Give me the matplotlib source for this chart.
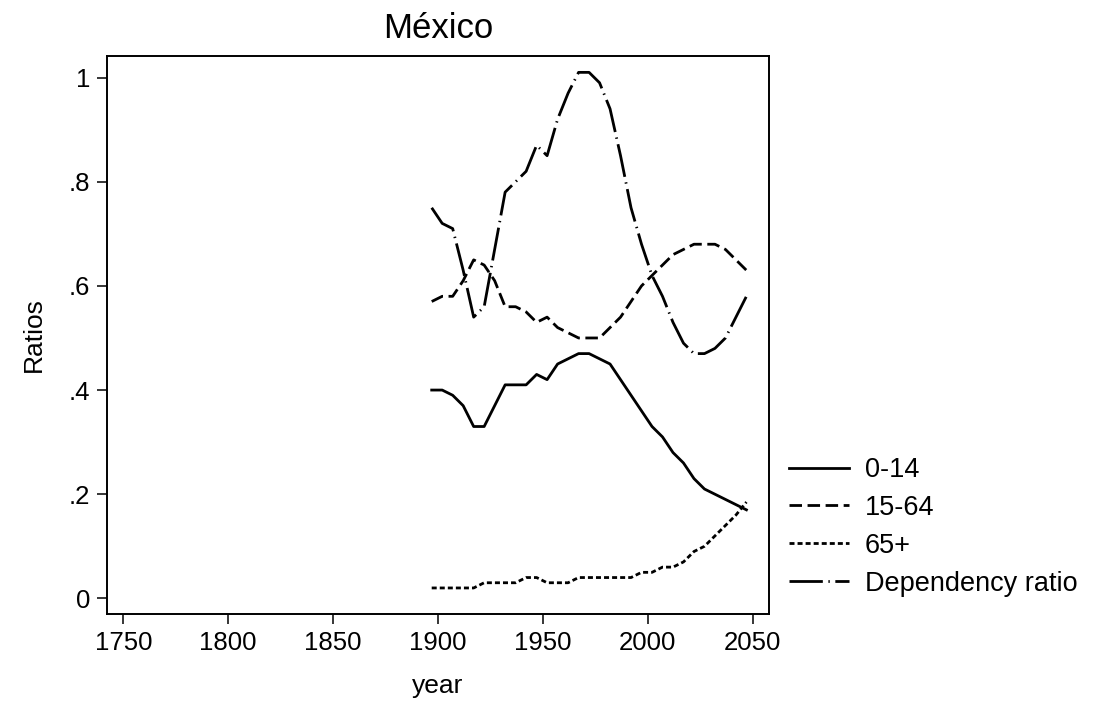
import matplotlib
matplotlib.use("Agg")
import matplotlib.pyplot as plt

plt.rcParams['font.family'] = ['Liberation Sans', 'DejaVu Sans']

years = list(range(1897, 2048, 5))
age_0_14 = [0.40, 0.40, 0.39, 0.37, 0.33, 0.33, 0.37, 0.41, 0.41, 0.41,
            0.43, 0.42, 0.45, 0.46, 0.47, 0.47, 0.46, 0.45, 0.42, 0.39,
            0.36, 0.33, 0.31, 0.28, 0.26, 0.23, 0.21, 0.20, 0.19, 0.18, 0.17]
age_15_64 = [0.57, 0.58, 0.58, 0.61, 0.65, 0.64, 0.61, 0.56, 0.56, 0.55,
             0.53, 0.54, 0.52, 0.51, 0.50, 0.50, 0.50, 0.52, 0.54, 0.57,
             0.60, 0.62, 0.64, 0.66, 0.67, 0.68, 0.68, 0.68, 0.67, 0.65, 0.63]
age_65p = [0.02, 0.02, 0.02, 0.02, 0.02, 0.03, 0.03, 0.03, 0.03, 0.04,
           0.04, 0.03, 0.03, 0.03, 0.04, 0.04, 0.04, 0.04, 0.04, 0.04,
           0.05, 0.05, 0.06, 0.06, 0.07, 0.09, 0.10, 0.12, 0.14, 0.16, 0.185]
dependency = [0.75, 0.72, 0.71, 0.63, 0.54, 0.56, 0.67, 0.78, 0.80, 0.82,
              0.87, 0.85, 0.92, 0.97, 1.01, 1.01, 0.99, 0.94, 0.85, 0.75,
              0.68, 0.62, 0.58, 0.53, 0.49, 0.47, 0.47, 0.48, 0.50, 0.54, 0.58]

series_labels = ['0-14', '15-64', '65+', 'Dependency ratio']
x_ticks = [1750, 1800, 1850, 1900, 1950, 2000, 2050]
y_ticks = [0, 0.2, 0.4, 0.6, 0.8, 1.0]
y_tick_labels = ['0', '.2', '.4', '.6', '.8', '1']

W, H = 1097, 701
fig = plt.figure(figsize=(W / 100, H / 100), dpi=100)
ax = fig.add_axes([106.7 / W, 1 - 614 / H, (769.3 - 106.7) / W, (614 - 55.7) / H])

lw = 2.0
l1, = ax.plot(years, age_0_14, color='black', lw=lw, linestyle='-')
l2, = ax.plot(years, age_15_64, color='black', lw=lw, linestyle=(0, (4.5, 2.0)))
l3, = ax.plot(years, age_65p, color='black', lw=lw, linestyle=(0, (1.8, 1.1)))
l4, = ax.plot(years, dependency, color='black', lw=lw, linestyle=(0, (12, 2.0, 0.5, 2.0)))

ax.set_xlim(1742.1, 2057.9)
ax.set_ylim(-0.030, 1.042)
ax.set_xticks(x_ticks)
ax.set_yticks(y_ticks)
ax.set_yticklabels(y_tick_labels)
ax.tick_params(axis='both', direction='out', length=7, width=1.1, labelsize=18.5, pad=5)
for s in ax.spines.values():
    s.set_linewidth(1.4)

ax.set_xlabel('year', fontsize=19, labelpad=14)
ax.set_ylabel('Ratios', fontsize=19, labelpad=16)
ax.set_title('México', fontsize=25, pad=13)

fig.legend([l1, l2, l3, l4], series_labels, loc='upper left',
           bbox_to_anchor=(789 / W, 1 - 457 / H), frameon=False,
           fontsize=19.5, handlelength=2.2, handletextpad=0.6,
           labelspacing=0.44, borderpad=0, borderaxespad=0)

fig.savefig('out.png', dpi=100)
